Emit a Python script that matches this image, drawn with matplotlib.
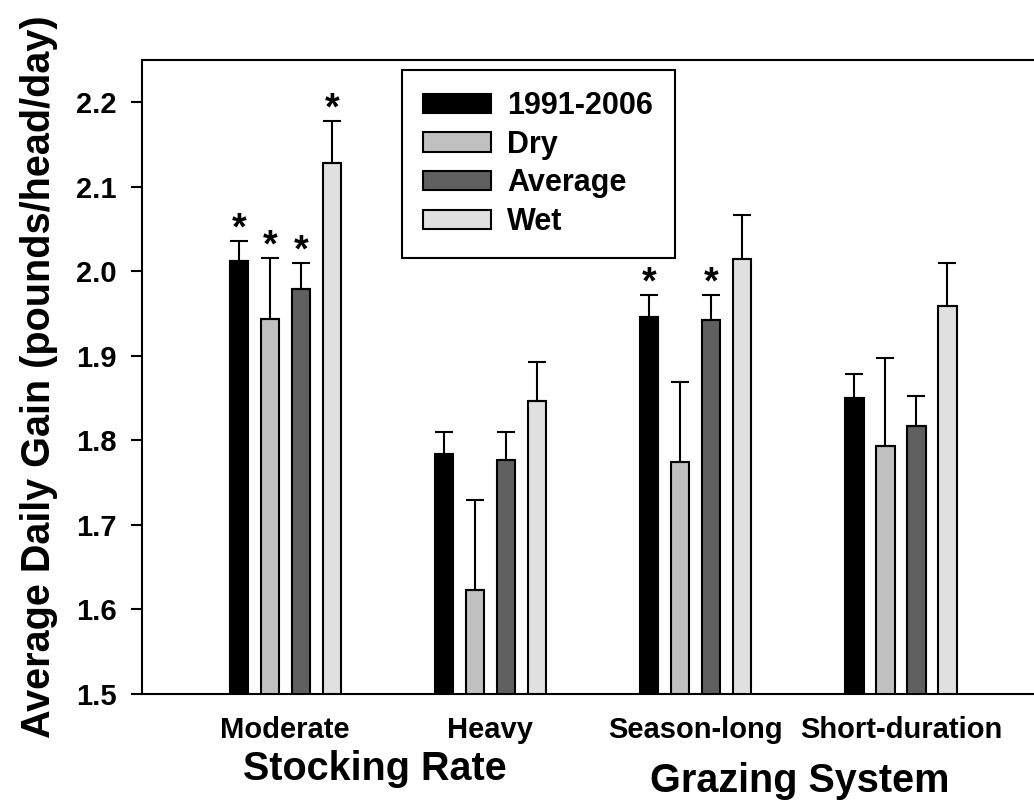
import numpy as np
import matplotlib
matplotlib.use("Agg")
import matplotlib.pyplot as plt

# -----------------------------
# DATA
# -----------------------------
groups = ["Moderate", "Heavy", "Season-long", "Short-duration"]
series = ["1991-2006", "Dry", "Average", "Wet"]
colors = ["#000000", "#c0c0c0", "#606060", "#e0e0e0"]

adg_1991_2006 = [2.012, 1.784, 1.946, 1.850]
adg_dry = [1.944, 1.623, 1.775, 1.793]
adg_average = [1.979, 1.777, 1.942, 1.817]
adg_wet = [2.128, 1.847, 2.014, 1.959]

se_1991_2006 = [0.024, 0.026, 0.026, 0.028]
se_dry = [0.072, 0.107, 0.094, 0.105]
se_average = [0.031, 0.033, 0.030, 0.035]
se_wet = [0.050, 0.046, 0.053, 0.051]

# significance stars (True = draw *)
star_1991_2006 = [True, False, True, False]
star_dry = [True, False, False, False]
star_average = [True, False, True, False]
star_wet = [True, False, False, False]

values = [adg_1991_2006, adg_dry, adg_average, adg_wet]
errors = [se_1991_2006, se_dry, se_average, se_wet]
stars = [star_1991_2006, star_dry, star_average, star_wet]

FONT = "Liberation Sans"
plt.rcParams["font.family"] = [FONT, "DejaVu Sans"]
plt.rcParams["font.weight"] = "bold"

# -----------------------------
# PLOT
# -----------------------------
fig = plt.figure(figsize=(10.34, 8.02), dpi=100)
ax = fig.add_axes([0.137, 0.1347, 0.893, 0.7905])

x = np.arange(len(groups))
offsets = [-0.2266, -0.0755, 0.0755, 0.2266]
width = 0.09

for i in range(len(series)):
    pos = x + offsets[i]
    ax.bar(pos, values[i], width, bottom=0, color=colors[i], edgecolor="black",
           linewidth=1.5, label=series[i], zorder=2)
    ax.errorbar(pos, values[i], yerr=[np.zeros(len(groups)), errors[i]], fmt="none",
                ecolor="black", elinewidth=1.5, capsize=6.5, capthick=1.5, zorder=3)
    for j in range(len(groups)):
        if stars[i][j]:
            ax.annotate("*", (pos[j], values[i][j] + errors[i][j]), xytext=(0, -5),
                        textcoords="offset points", ha="center", va="bottom",
                        fontsize=27, fontweight="bold")

ax.set_ylim(1.5, 2.25)
ax.set_xlim(-0.7, 3.8)
ax.set_yticks(np.arange(1.5, 2.21, 0.1))
ax.set_yticklabels([f"{v:.1f}" for v in np.arange(1.5, 2.21, 0.1)])
ax.set_xticks(x)
ax.set_xticklabels(groups)
ax.tick_params(axis="y", direction="out", length=8, width=1.5, labelsize=21, pad=10)
ax.tick_params(axis="x", length=0, labelsize=21, pad=16)

for s in ["left", "top", "bottom", "right"]:
    ax.spines[s].set_linewidth(1.5)

ax.set_ylabel("Average Daily Gain (pounds/head/day)", fontsize=28.5, fontweight="bold", labelpad=13)

fig.text(375 / 1034, 1 - 780 / 802, "Stocking Rate", ha="center", va="baseline",
         fontsize=28.5, fontweight="bold")
fig.text(800 / 1034, 1 - 792 / 802, "Grazing System", ha="center", va="baseline",
         fontsize=28.5, fontweight="bold")

leg = ax.legend(loc="upper left", bbox_to_anchor=(402 / 1034, 1 - 70 / 802),
                bbox_transform=fig.transFigure, borderaxespad=0, fancybox=False,
                edgecolor="black", fontsize=22, handlelength=2.2, handleheight=0.6,
                handletextpad=0.55, labelspacing=0.28, borderpad=0.7)
leg.get_frame().set_linewidth(1.5)
leg.get_frame().set_alpha(1)

fig.savefig("out.png", dpi=100)
